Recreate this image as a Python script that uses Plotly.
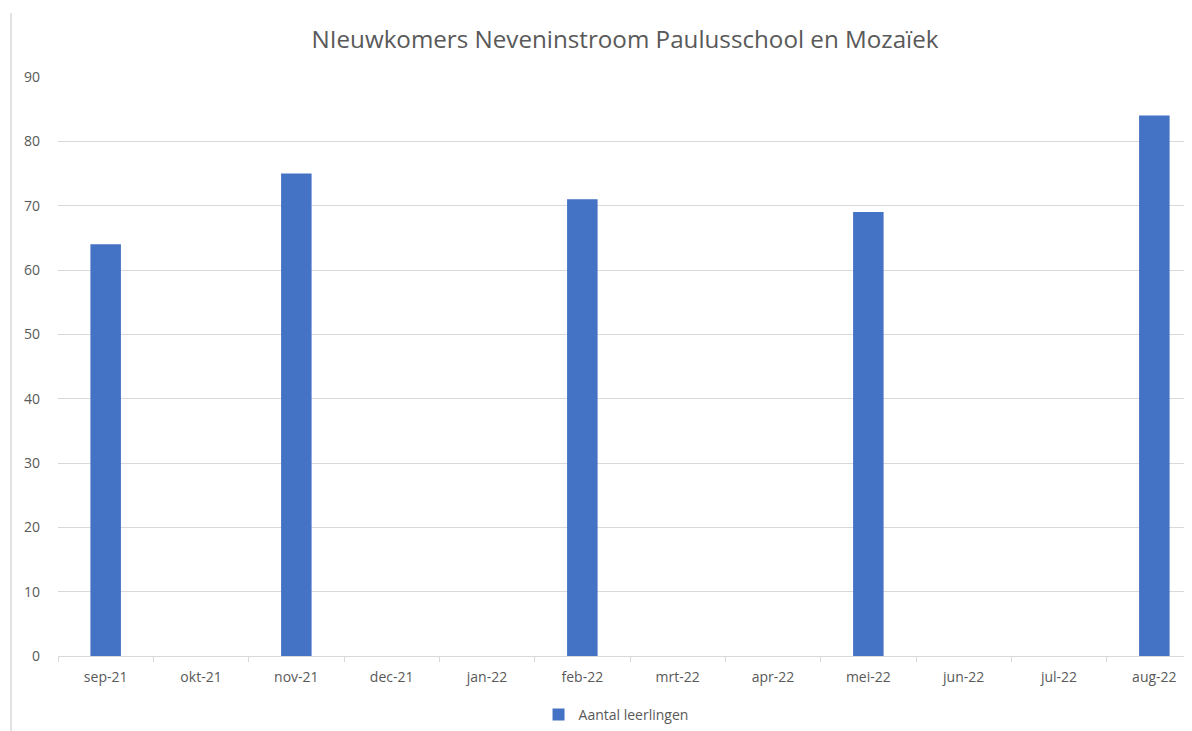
import plotly.graph_objects as go

months = ["sep-21", "okt-21", "nov-21", "dec-21", "jan-22", "feb-22",
          "mrt-22", "apr-22", "mei-22", "jun-22", "jul-22", "aug-22"]
leerlingen = [64, None, 75, None, None, 71, None, None, 69, None, None, 84]
series_name = "Aantal leerlingen"
title_text = "NIeuwkomers Neveninstroom Paulusschool en Mozaïek"

FONT = "Open Sans"
GREY = "#595959"

fig = go.Figure()
fig.add_trace(go.Bar(x=months, y=leerlingen, name=series_name,
                     marker=dict(color="#4472C4", line=dict(width=0))))

fig.update_layout(
    width=1184, height=723,
    margin=dict(l=50, r=0, t=69, b=75),
    paper_bgcolor="white", plot_bgcolor="white",
    font=dict(family=FONT, color=GREY, size=14),
    title=dict(text=title_text, x=617 / 1184, xref="container", xanchor="center",
               y=1 - 32 / 723, yref="container", yanchor="middle",
               font=dict(family=FONT, size=24.2, color=GREY)),
    bargap=0.68,
    showlegend=True,
    legend=dict(orientation="h", x=0.4921, xanchor="center", y=-0.102, yanchor="middle",
                font=dict(size=14, color=GREY)),
    xaxis=dict(type="category", range=[-0.5, 11.395], showgrid=False,
               showline=True, linecolor="#d9d9d9", linewidth=1,
               ticks="outside", tickson="boundaries", ticklen=5, tickcolor="#d9d9d9",
               ticklabelstandoff=8,
               tickfont=dict(size=14, color=GREY), fixedrange=True),
    yaxis=dict(range=[0, 90], dtick=10, showgrid=True, gridcolor="#d9d9d9", gridwidth=1,
               zeroline=False, showline=False, ticks="", ticklabelstandoff=17,
               tickfont=dict(size=14, color=GREY)),
)

fig.add_shape(type="line", xref="paper", yref="paper",
              x0=(3 - 50) / 1134, x1=(3 - 50) / 1134, y0=1.1105, y1=-0.1295,
              line=dict(color="#d9d9d9", width=1.5))

fig.write_html("out.html")
